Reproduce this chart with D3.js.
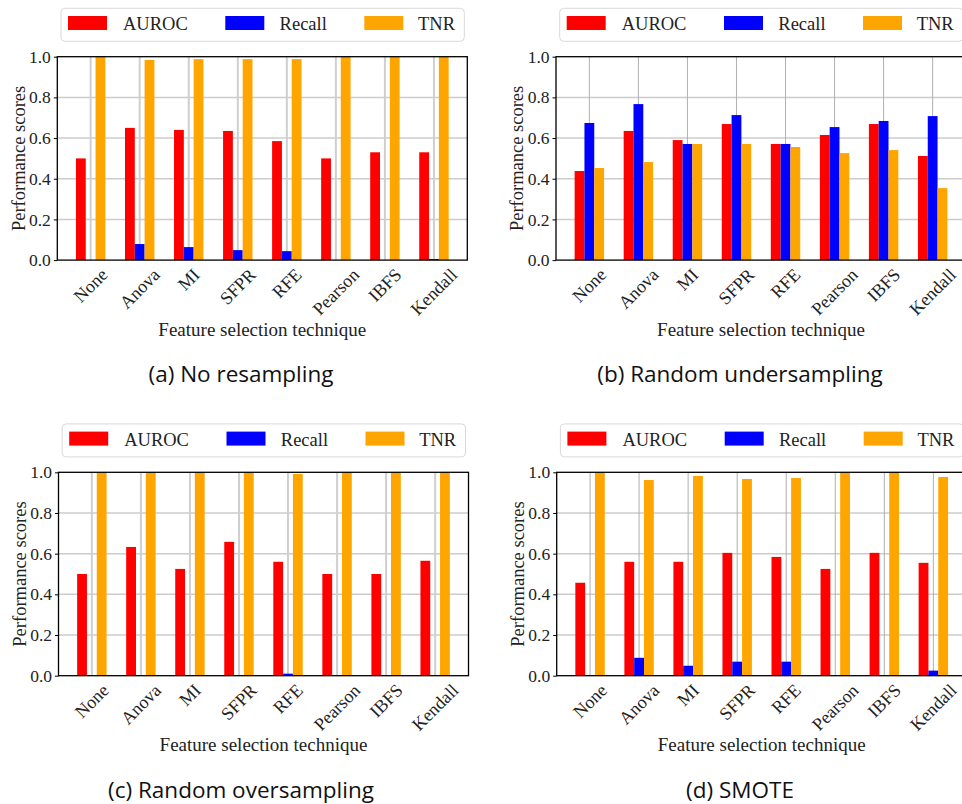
<!DOCTYPE html>
<html>
<head>
<meta charset="utf-8">
<script src="https://cdn.jsdelivr.net/npm/d3@7"></script>
<style>
  html, body { margin: 0; padding: 0; background: #ffffff; }
  svg { display: block; }
</style>
</head>
<body>
<svg id="chart" width="962" height="804"></svg>
<script>
// ---------------- DATA ----------------
const categories = ["None", "Anova", "MI", "SFPR", "RFE", "Pearson", "IBFS", "Kendall"];
const seriesNames = ["AUROC", "Recall", "TNR"];
const seriesColors = ["#ff0000", "#0000ff", "#ffa500"];
const yTicks = [0.0, 0.2, 0.4, 0.6, 0.8, 1.0];
const yTickLabels = ["0.0", "0.2", "0.4", "0.6", "0.8", "1.0"];
const yAxisLabel = "Performance scores";
const xAxisLabel = "Feature selection technique";

// (a) No resampling
const noResAUROC  = [0.50, 0.65, 0.64, 0.635, 0.585, 0.50, 0.53, 0.53];
const noResRecall = [0.00, 0.079, 0.064, 0.049, 0.044, 0.00, 0.00, 0.005];
const noResTNR    = [1.00, 0.984, 0.988, 0.988, 0.988, 1.00, 1.00, 1.00];

// (b) Random undersampling
const underAUROC  = [0.438, 0.635, 0.590, 0.669, 0.571, 0.615, 0.669, 0.512];
const underRecall = [0.674, 0.767, 0.571, 0.713, 0.571, 0.654, 0.684, 0.708];
const underTNR    = [0.453, 0.482, 0.571, 0.571, 0.556, 0.526, 0.541, 0.354];

// (c) Random oversampling
const overAUROC  = [0.50, 0.633, 0.525, 0.658, 0.560, 0.50, 0.50, 0.565];
const overRecall = [0.00, 0.00, 0.00, 0.00, 0.010, 0.00, 0.00, 0.00];
const overTNR    = [1.00, 1.00, 1.00, 1.00, 0.992, 1.00, 1.00, 1.00];

// (d) SMOTE
const smoteAUROC  = [0.457, 0.560, 0.560, 0.604, 0.584, 0.525, 0.604, 0.555];
const smoteRecall = [0.00, 0.088, 0.049, 0.069, 0.069, 0.00, 0.00, 0.025];
const smoteTNR    = [1.00, 0.962, 0.982, 0.967, 0.972, 1.00, 1.00, 0.977];

const captions = ["(a) No resampling", "(b) Random undersampling", "(c) Random oversampling", "(d) SMOTE"];

// ---------------- LAYOUT ----------------
const plotW = 410, plotH = 203.4;
const panels = [
  { left: 57.3,  top: 56.7,  series: [noResAUROC, noResRecall, noResTNR], caption: captions[0], capX: 241, capY: 382, vGrid: "#cfcfcf", vGridW: 2 },
  { left: 556.0, top: 56.7,  series: [underAUROC, underRecall, underTNR], caption: captions[1], capX: 740, capY: 382, vGrid: "#b0b0b0", vGridW: 1 },
  { left: 58.5,  top: 472.3, series: [overAUROC, overRecall, overTNR],    caption: captions[2], capX: 241, capY: 798, vGrid: "#cfcfcf", vGridW: 2 },
  { left: 556.7, top: 472.3, series: [smoteAUROC, smoteRecall, smoteTNR], caption: captions[3], capX: 740, capY: 798, vGrid: "#b0b0b0", vGridW: 1 }
];

const svg = d3.select("#chart");
const serif = "'Liberation Serif', 'Times New Roman', serif";
const sans = "'Open Sans', 'Noto Sans', sans-serif";

const x = d3.scaleLinear().domain([-0.68, categories.length - 1 + 0.68]).range([0, plotW]);
const y = d3.scaleLinear().domain([0, 1]).range([plotH, 0]);
const barW = x(0.2) - x(0);
const offsets = [-0.2, 0, 0.2];

panels.forEach(p => {
  const g = svg.append("g").attr("transform", `translate(${p.left},${p.top})`);

  // grid lines
  g.append("g").selectAll("line.h").data(yTicks.slice(1, -1)).join("line")
    .attr("x1", 0).attr("x2", plotW)
    .attr("y1", d => y(d)).attr("y2", d => y(d))
    .attr("stroke", "#cccccc").attr("stroke-width", 1.5);
  g.append("g").selectAll("line.v").data(categories).join("line")
    .attr("x1", (d, i) => x(i)).attr("x2", (d, i) => x(i))
    .attr("y1", 0).attr("y2", plotH)
    .attr("stroke", p.vGrid).attr("stroke-width", p.vGridW);

  // bars
  p.series.forEach((vals, s) => {
    g.append("g").selectAll("rect").data(vals).join("rect")
      .attr("x", (d, i) => x(i + offsets[s] - 0.1))
      .attr("width", barW)
      .attr("y", d => y(d))
      .attr("height", d => y(0) - y(d))
      .attr("fill", seriesColors[s]);
  });

  // spines
  g.append("rect").attr("x", 0).attr("y", 0).attr("width", plotW).attr("height", plotH)
    .attr("fill", "none").attr("stroke", "#000").attr("stroke-width", 1.3);

  // y axis
  const yAxis = d3.axisLeft(y).tickValues(yTicks).tickFormat((d, i) => yTickLabels[i])
    .tickSize(3.5).tickPadding(3);
  const ya = g.append("g").call(yAxis);
  ya.select(".domain").remove();
  ya.selectAll("text").attr("font-family", serif).attr("font-size", 17.5).attr("fill", "#222");
  ya.selectAll("line").attr("stroke", "#000");

  // x tick labels (rotated 45°, centred, top-aligned)
  const fs = 18;
  categories.forEach((c, i) => {
    const t = g.append("text").text(c)
      .attr("font-family", serif).attr("font-size", fs).attr("fill", "#222")
      .attr("text-anchor", "middle").attr("dominant-baseline", "central");
    const w = t.node().getComputedTextLength();
    const h = fs * 0.72;
    const half = (w + h) / (2 * Math.SQRT2);
    t.attr("transform", `translate(${x(i)},${plotH + 7 + half}) rotate(-45)`);
  });

  // axis labels
  g.append("text").text(xAxisLabel)
    .attr("x", plotW / 2).attr("y", plotH + 75.5)
    .attr("text-anchor", "middle").attr("font-family", serif).attr("font-size", 19).attr("fill", "#222");
  g.append("text").text(yAxisLabel)
    .attr("transform", `translate(-32.8,${plotH / 2}) rotate(-90)`)
    .attr("text-anchor", "middle").attr("font-family", serif).attr("font-size", 18.5).attr("fill", "#222");

  // legend
  const lg = g.append("g").attr("transform", `translate(3.7,${-48.4})`);
  lg.append("rect").attr("x", 0).attr("y", 0).attr("width", 403.3).attr("height", 33)
    .attr("rx", 4).attr("ry", 4).attr("fill", "#fff").attr("stroke", "#d9d9d9").attr("stroke-width", 1);
  const handleX = [7, 164.3, 303.3];
  const textX = [62, 218.6, 357];
  seriesNames.forEach((n, s) => {
    lg.append("rect").attr("x", handleX[s]).attr("y", 7.7).attr("width", 39).attr("height", 14)
      .attr("fill", seriesColors[s]);
    lg.append("text").text(n).attr("x", textX[s]).attr("y", 22.2)
      .attr("font-family", serif).attr("font-size", 18.5).attr("fill", "#222");
  });

  // caption
  svg.append("text").text(p.caption)
    .attr("x", p.capX).attr("y", p.capY)
    .attr("text-anchor", "middle").attr("font-family", sans).attr("font-size", 22.5)
    .attr("font-weight", 500).attr("fill", "#111");
});
</script>
</body>
</html>
